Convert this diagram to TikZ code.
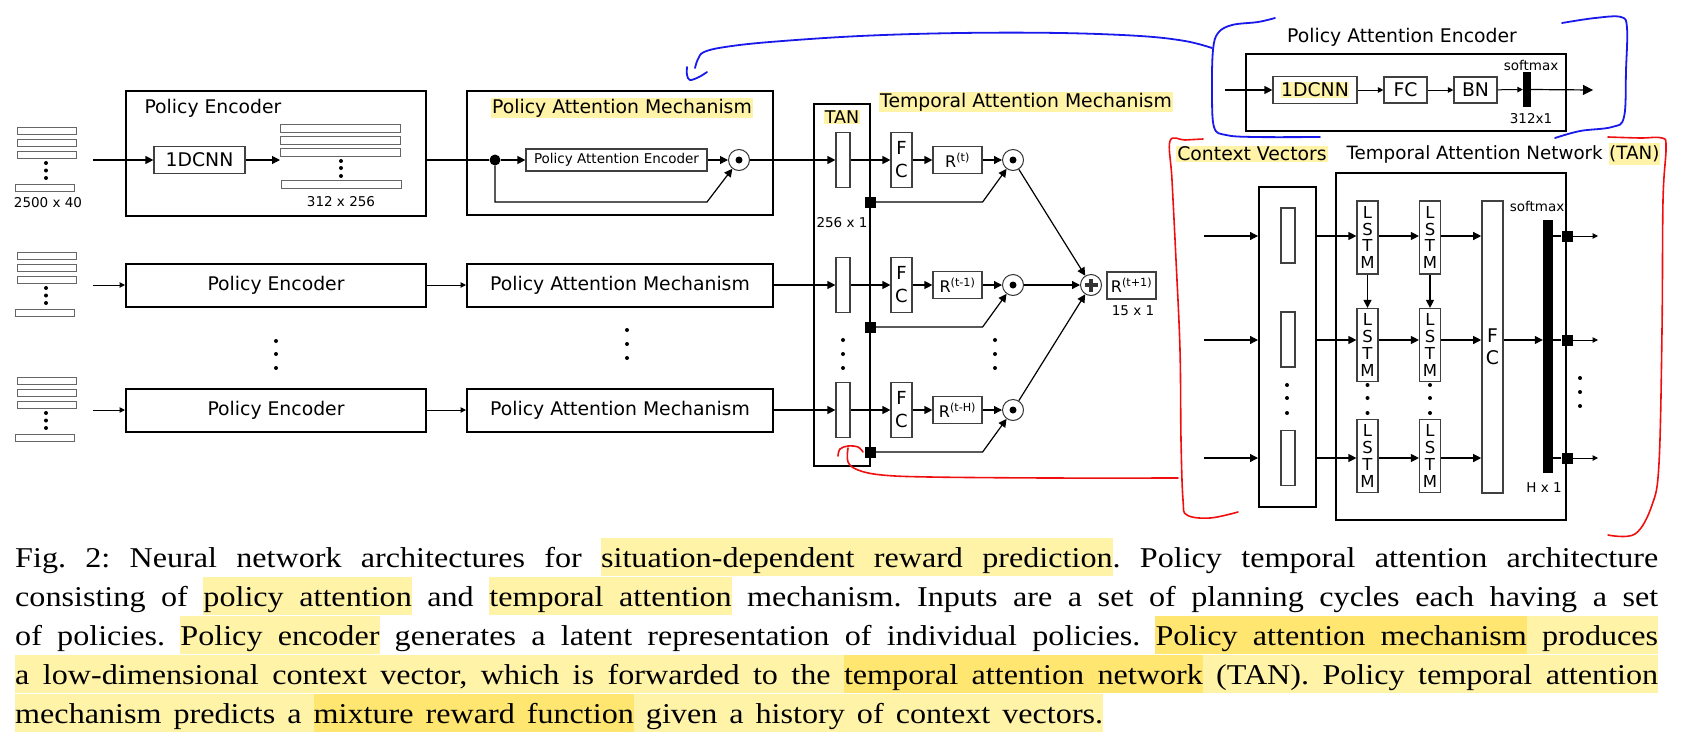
\documentclass[tikz,border=0pt]{standalone}
\usepackage{fontspec}
\setmainfont{DejaVu Sans}
\newfontfamily\capfont{Liberation Serif}[FakeStretch=1.12]
\usetikzlibrary{arrows.meta,positioning,calc}
\definecolor{hlight}{RGB}{255,243,168}
\definecolor{hldark}{RGB}{255,230,112}
\definecolor{penblue}{RGB}{25,25,235}
\definecolor{penred}{RGB}{240,15,15}

% caption highlighting
\newcommand\capstrut{\vrule height29pt depth9pt width0pt}
\newcommand\hlt[2][hlight]{{\setbox0\hbox{#2}\rlap{\color{#1}\vrule height29pt depth9pt width\wd0}\box0}}
\newcommand\hls[1][hlight]{{\color{#1}\leaders\vrule height29pt depth9pt\hskip\fontdimen2\font plus\fontdimen3\font minus\fontdimen4\font}}
\newcommand\hlp[2][hlight]{\def\hlcol{#1}\hlpi#2 \relax}
\def\hlpi#1 #2\relax{\hlt[\hlcol]{#1}\ifx\relax#2\relax\else\hls[\hlcol]\hlpi#2\relax\fi}

\begin{document}
\begin{tikzpicture}[x=1pt,y=-1pt,
  bigbox/.style={draw,line width=2pt,inner sep=0pt},
  smbox/.style={draw=black!75,line width=1.2pt,inner sep=0pt},
  arr/.style={-{Triangle[length=8pt,width=8pt]},line width=1.2pt},
  sarr/.style={-{Triangle[length=5.5pt,width=5.5pt]},line width=1pt},
  lbl/.style={font=\fontsize{18.8}{22}\selectfont},
  sml/.style={font=\fontsize{13.5}{16}\selectfont},
  rlbl/.style={font=\fontsize{16}{19}\selectfont},
  lstm/.style={smbox,align=center,font=\fontsize{16.5}{16.7}\selectfont,minimum width=21,minimum height=73},
  hl/.style={fill=hlight,inner xsep=1pt,inner ysep=0.5pt},
  pbar/.style={draw=black!60,line width=0.9pt},
  sq/.style={fill,inner sep=0pt,minimum size=11},
  jdot/.style={circle,fill,inner sep=0pt,minimum size=11},
  odot/.style={circle,draw=black!80,line width=1pt,minimum size=21,inner sep=0pt,
    path picture={\fill (path picture bounding box.center) circle (3.5pt);}},
  oplus/.style={circle,draw=black!80,line width=1pt,minimum size=21,inner sep=0pt,
    path picture={\draw[line width=3.5pt] ([xshift=-6.5pt]path picture bounding box.center) -- ([xshift=6.5pt]path picture bounding box.center)
      ([yshift=-6.5pt]path picture bounding box.center) -- ([yshift=6.5pt]path picture bounding box.center);}},
  scrawl/.style={line width=1.8pt,line cap=round,line join=round},
  capline/.style={anchor=base west,inner sep=0pt,font=\capfont\fontsize{28.7}{39}\selectfont}]
\useasboundingbox (0,0) rectangle (1691,745);

% input stacks, one per planning cycle
\foreach \yc in {160,285,410}{
  \foreach \dy in {-29,-17,-5}
    \draw[pbar] (17,\yc+\dy-3.7) rectangle (76,\yc+\dy+3.7);
  \foreach \dy in {3,10.5,18}
    \fill (46,\yc+\dy) circle (2pt);
  \draw[pbar] (15,\yc+24.3) rectangle (74,\yc+31.7);
}
\node[sml] (indim) at (48,203) {2500 x 40};
\coordinate (in1) at (93,160);
\coordinate (in2) at (93,285);
\coordinate (in3) at (93,410);

% policy encoder (first row, expanded)
\node[bigbox,minimum width=300,minimum height=125] (pe1) at (276,153.5) {};
\node[lbl,anchor=west] (pe1t) at (141,108) {Policy Encoder};
\node[smbox,lbl,minimum width=91,minimum height=27] (cnn1) at (199.5,160) {1DCNN};
\foreach \y in {128,140.5,152.5}
  \draw[pbar] (280,\y-4) rectangle (400,\y+4);
\foreach \y in {161,168,176}
  \fill (341,\y) circle (2pt);
\draw[pbar] (281,180) rectangle (401,188);
\coordinate (est) at (280,160);
\node[sml] (estdim) at (341,202) {312 x 256};
\draw[arr] (in1) -- (cnn1);
\draw[arr] (cnn1) -- (est);

% policy attention mechanism (first row, expanded)
\node[bigbox,minimum width=306,minimum height=124] (pam1) at (620,153) {};
\node[lbl,hl] (pam1t) at (622,108) {Policy Attention Mechanism};
\node[jdot] (jn) at (495,160) {};
\node[smbox,sml,minimum width=181,minimum height=22] (pae1) at (616.5,160) {Policy Attention Encoder};
\node[odot] (pod) at (739,160) {};
\coordinate (fb) at (707,202);
\draw[line width=1.2pt] (pe1.east |- jn) -- (jn);
\draw[arr] (jn) -- (pae1);
\draw[arr] (pae1) -- (pod);
\draw[arr] (jn) |- (fb) -- (pod);

% collapsed rows
\node[bigbox,lbl,minimum width=300,minimum height=43] (pe2) at (276,285) {Policy Encoder};
\node[bigbox,lbl,minimum width=306,minimum height=43] (pam2) at (620,285) {Policy Attention Mechanism};
\node[bigbox,lbl,minimum width=300,minimum height=43] (pe3) at (276,410) {Policy Encoder};
\node[bigbox,lbl,minimum width=306,minimum height=43] (pam3) at (620,410) {Policy Attention Mechanism};
\draw[sarr] (in2) -- (pe2);
\draw[sarr] (pe2) -- (pam2);
\draw[sarr] (in3) -- (pe3);
\draw[sarr] (pe3) -- (pam3);
\foreach \y in {341,354,368} \fill (276,\y) circle (2pt);
\foreach \y in {330,344,358} \fill (627,\y) circle (2pt);

% temporal attention mechanism
\node[bigbox,minimum width=56,minimum height=362] (tan) at (842,285) {};
\node[hl,font=\fontsize{17.5}{20}\selectfont] (tant) at (842,117) {TAN};
\node[sml] (tandim) at (842,223) {256 x 1};
\node[lbl,hl] (tamt) at (1026,102) {Temporal Attention Mechanism};
\node[oplus] (op) at (1091,285) {};
\node[smbox,rlbl,minimum width=49,minimum height=27] (rout) at (1131.5,285.5) {R\textsuperscript{(t+1)}};
\node[sml] (routdim) at (1133,311) {15 x 1};
\foreach \i/\yc/\rl in {1/160/(t),2/285/(t-1),3/410/(t-H)}{
  \node[smbox,minimum width=14,minimum height=55] (v\i) at (843,\yc) {};
  \node[smbox,align=center,font=\fontsize{18}{23}\selectfont,minimum width=21,minimum height=55] (f\i) at (901.5,\yc) {F\\C};
  \node[smbox,rlbl,minimum width=49,minimum height=27] (r\i) at (957.5,\yc) {R\textsuperscript{\rl}};
  \node[odot] (od\i) at (1013,\yc) {};
  \node[sq] (sq\i) at (870,\yc+42) {};
  \draw[arr] (v\i) -- (f\i);
  \draw[arr] (f\i) -- (r\i);
  \draw[arr] (r\i) -- (od\i);
  \draw[arr] (sq\i) -- (r\i.east |- sq\i) -- (od\i);
  \draw[arr] (od\i) -- (op);
}
\draw[arr] (pod) -- (v1);
\draw[arr] (pam2) -- (v2);
\draw[arr] (pam3) -- (v3);
\foreach \y in {340,354,368} \fill (843,\y) circle (2pt);
\foreach \y in {340,354,368} \fill (995,\y) circle (2pt);

% policy attention encoder (detail)
\node[lbl] (paet) at (1402,37) {Policy Attention Encoder};
\node[bigbox,minimum width=320,minimum height=77] (paebox) at (1406,92.5) {};
\coordinate (pin) at (1225,90);
\coordinate (pout) at (1593,90);
\node[smbox,lbl,minimum width=84,minimum height=27] (cnn2) at (1315,90) {\setlength\fboxsep{0.5pt}\colorbox{hlight}{1DCNN}};
\node[smbox,lbl,minimum width=43,minimum height=26] (fc2) at (1405.5,90) {FC};
\node[smbox,lbl,minimum width=43,minimum height=26] (bn) at (1475.5,90) {BN};
\node[fill,inner sep=0pt,minimum width=8,minimum height=35] (sbar1) at (1527,89.5) {};
\node[sml] (smx1) at (1531,65) {softmax};
\node[sml] (smxdim1) at (1531,119) {312x1};
\draw[arr] (pin) -- (cnn2);
\draw[sarr] (cnn2) -- (fc2);
\draw[sarr] (fc2) -- (bn);
\draw[sarr] (bn) -- (sbar1);
\draw[-{Triangle[length=10pt,width=10pt]},line width=1.2pt] (sbar1.east) -- (pout);

% temporal attention network (detail)
\node[lbl,hl] (cvt) at (1252,154) {Context Vectors};
\node[anchor=west,font=\fontsize{18.3}{22}\selectfont] (tnt) at (1343,154) {Temporal Attention Network \colorbox{hlight}{\hspace{-2.5pt}(TAN)\hspace{-2.5pt}}};
\node[bigbox,minimum width=57,minimum height=320] (cv) at (1287.5,347) {};
\foreach \i/\y in {1/235.5,2/339.5,3/458}
  \node[smbox,minimum width=14,minimum height=55] (cvv\i) at (1288,\y) {};
\foreach \y in {385,398,413} \fill (1287,\y) circle (2pt);
\node[bigbox,minimum width=230,minimum height=347] (tan2) at (1451,346.5) {};
\foreach \c/\x in {1/1367.5,2/1430}{
  \foreach \r/\y in {1/237.5,2/345,3/456}
    \node[lstm] (l\c\r) at (\x,\y) {L\\S\\T\\M};
  \foreach \y in {385,398,413} \fill (\x,\y) circle (2pt);
}
\node[smbox,lbl,line width=1.6pt,align=center,minimum width=21,minimum height=292] (fc3) at (1492.5,347) {F\\C};
\node[fill,inner sep=0pt,minimum width=10,minimum height=253] (sbar2) at (1548,346.5) {};
\node[sml] (smx2) at (1537,206) {softmax};
\node[sml] (hdim) at (1544,488) {H x 1};
\coordinate (r1) at (1204,236);
\coordinate (r2) at (1204,340);
\coordinate (r3) at (1204,458);
\coordinate (o1) at (1598,236);
\coordinate (o2) at (1598,340);
\coordinate (o3) at (1598,458);
\foreach \k in {1,2,3}{
  \draw[arr] (r\k) -- (cv.west |- r\k);
  \draw[arr] (cv.east |- r\k) -- (l1\k.west |- r\k);
  \draw[arr] (l1\k.east |- r\k) -- (l2\k.west |- r\k);
  \draw[arr] (l2\k.east |- r\k) -- (fc3.west |- r\k);
  \node[sq] (tq\k) at (tan2.east |- r\k) {};
  \draw[line width=1.2pt] (sbar2.east |- r\k) -- (tq\k);
  \draw[sarr] (tq\k) -- (o\k);
}
\draw[arr] (l11) -- (l12);
\draw[arr] (l21) -- (l22);
\draw[arr] (fc3.east |- r2) -- (sbar2.west |- r2);
\foreach \y in {378,392,406} \fill (1580,\y) circle (2pt);

% pen marks
\draw[penblue,scrawl] plot[smooth,tension=0.6] coordinates {(707,72) (699,77) (690,80) (687,75) (687,67)};
\draw[penblue,scrawl] plot[smooth,tension=0.6] coordinates {(695,68) (698,59) (704,52) (725,47) (770,42) (860,36) (960,33) (1060,33) (1140,36) (1185,41) (1212,48)};
\draw[penblue,scrawl] plot[smooth,tension=0.6] coordinates {(1275,18) (1258,22) (1232,25) (1218,33) (1213,50) (1212,90) (1214,127) (1226,135) (1255,137) (1320,137)};
\draw[penblue,scrawl] plot[smooth,tension=0.6] coordinates {(1562,23) (1595,18) (1621,17) (1627,28) (1626,70) (1624,117) (1612,127) (1580,131) (1555,138)};
\draw[penred,scrawl,line width=1.6pt] plot[smooth,tension=0.6] coordinates {(838,456) (840,449) (848,446) (858,447) (863,452)};
\draw[penred,scrawl,line width=1.6pt] plot[smooth,tension=0.6] coordinates {(848,448) (848,462) (858,470) (882,475) (930,477) (1050,478) (1178,478)};
\draw[penred,scrawl,line width=1.6pt] plot[smooth,tension=0.6] coordinates {(1203,139) (1185,140) (1170,141) (1172,180) (1176,260) (1180,350) (1181,440) (1183,500) (1187,515) (1210,518) (1238,512)};
\draw[penred,scrawl,line width=1.6pt] plot[smooth,tension=0.6] coordinates {(1608,137) (1640,138) (1662,138) (1666,148) (1663,200) (1662,330) (1659,463) (1652,505) (1635,534) (1608,535)};

% caption
\node[capline] (cap1) at (15,567) {\frenchspacing\makebox[1643pt][s]{Fig. 2: Neural network architectures for \hlp{situation-dependent reward prediction}. Policy temporal attention architecture}};
\node[capline] (cap2) at (15,606) {\frenchspacing\makebox[1643pt][s]{consisting of \hlp{policy attention} and \hlp{temporal attention} mechanism. Inputs are a set of planning cycles each having a set}};
\node[capline] (cap3) at (15,645) {\frenchspacing\makebox[1643pt][s]{of policies. \hlp{Policy encoder} generates a latent representation of individual policies. \hlp[hldark]{Policy attention mechanism}\hls\hlt{produces}}};
\node[capline,fill=hlight] (cap4) at (15,684) {\frenchspacing\makebox[1643pt][s]{\capstrut a low-dimensional context vector, which is forwarded to the \hlp[hldark]{temporal attention network} (TAN). Policy temporal attention}};
\node[capline,fill=hlight] (cap5) at (15,723) {\frenchspacing\makebox[1088pt][s]{\capstrut mechanism predicts a \hlp[hldark]{mixture reward function} given a history of context vectors.}};
\end{tikzpicture}
\end{document}
